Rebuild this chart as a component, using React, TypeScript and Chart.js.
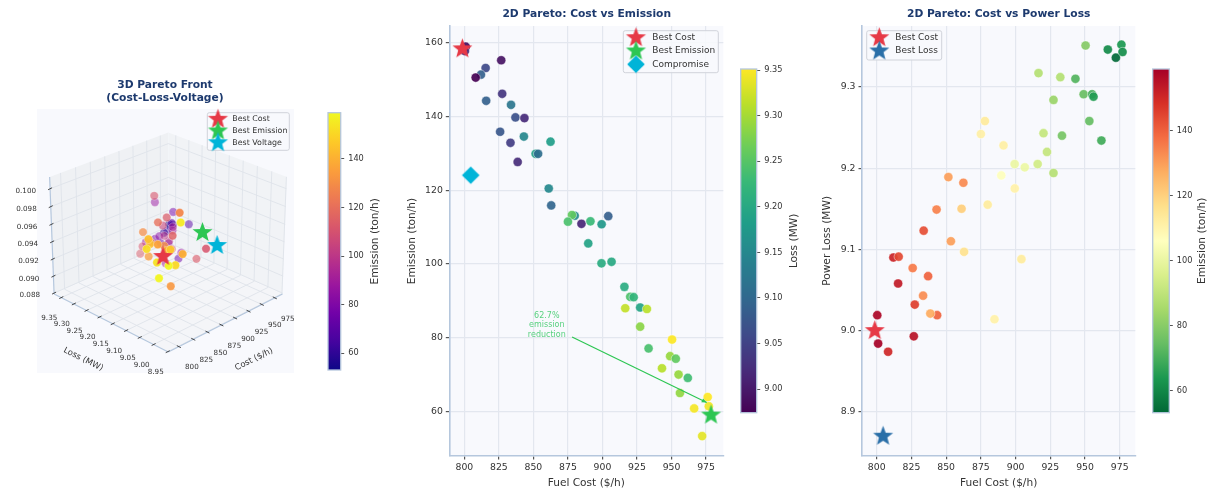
import React, { useEffect, useRef } from "react";
import { Chart, registerables } from "chart.js";

Chart.register(...registerables);

const fuelCost = [801, 800.4, 826.7, 815.4, 812, 808.2, 827.4, 815.8, 833.8, 837, 843.5, 825.9, 843.1, 833.4, 862.4, 851.6, 853.4, 838.6, 861.1, 862.9, 904.2, 879.9, 877.9, 875, 884.8, 891.3, 899.4, 889.7, 899.3, 906.6, 915.9, 920.1, 922.6, 927.3, 916.5, 932.2, 927.3, 950.4, 933.4, 949, 953.1, 943.1, 955.1, 961.8, 956.1, 976.2, 977, 966.4, 972.2];
const emission = [159, 157.8, 155.3, 153.2, 151.4, 150.6, 146.2, 144.3, 143.2, 139.8, 139.6, 135.9, 134.6, 132.9, 133.2, 129.9, 129.9, 127.7, 120.5, 115.9, 113, 113.1, 113.3, 111.5, 110.9, 111.6, 110.8, 105.6, 100.2, 100.6, 93.8, 91.1, 91, 88.2, 88, 87.8, 83, 79.5, 77.1, 75, 74.3, 71.7, 70, 69.1, 65, 63.9, 61.4, 60.8, 53.3];
const powerLoss = [8.984, 9.019, 8.993, 9.058, 9.09, 8.974, 9.032, 9.091, 9.123, 9.067, 9.019, 9.077, 9.149, 9.043, 9.182, 9.189, 9.11, 9.021, 9.15, 9.097, 9.088, 9.155, 9.258, 9.242, 9.014, 9.228, 9.175, 9.191, 9.205, 9.201, 9.205, 9.243, 9.22, 9.194, 9.317, 9.312, 9.284, 9.351, 9.24, 9.291, 9.258, 9.31, 9.291, 9.234, 9.288, 9.352, 9.343, 9.346, 9.336];
const voltageDev = [0.0962, 0.0943, 0.1002, 0.0951, 0.0963, 0.0962, 0.0966, 0.0973, 0.0958, 0.0957, 0.0958, 0.0966, 0.0937, 0.092, 0.0944, 0.0958, 0.0952, 0.1006, 0.0972, 0.0963, 0.0925, 0.0972, 0.0915, 0.0927, 0.0953, 0.0985, 0.0926, 0.0955, 0.0938, 0.093, 0.0944, 0.0893, 0.0936, 0.0911, 0.091, 0.0956, 0.0919, 0.09, 0.0953, 0.0903, 0.0887, 0.0902, 0.0927, 0.0931, 0.0925, 0.0903, 0.091, 0.0904, 0.0915];

const bestCost = { cost: 798.6, emission: 158.4, loss: 9.0, voltage: 0.0971 };
const bestEmission = { cost: 978.6, emission: 59, loss: 9.212, voltage: 0.0919 };
const bestVoltage = { cost: 962, loss: 9.121, voltage: 0.092 };
const bestLoss = { cost: 804.6, loss: 8.87 };
const compromise = { cost: 804.6, emission: 124.1 };

const costTicks = [800, 825, 850, 875, 900, 925, 950, 975];
const emissionTicks = [60, 80, 100, 120, 140, 160];
const lossTicks = [8.9, 9.0, 9.1, 9.2, 9.3];
const lossBarTicks = [9.0, 9.05, 9.1, 9.15, 9.2, 9.25, 9.3, 9.35];
const emissionBarTicks = [60, 80, 100, 120, 140];
const loss3dTicks = [8.95, 9.0, 9.05, 9.1, 9.15, 9.2, 9.25, 9.3, 9.35];
const voltage3dTicks = [0.088, 0.09, 0.092, 0.094, 0.096, 0.098, 0.1];

const VIRIDIS = ["#440154", "#482878", "#3e4989", "#31688e", "#26828e", "#1f9e89", "#35b779", "#6ece58", "#b5de2b", "#fde725"];
const PLASMA = ["#0d0887", "#46039f", "#7201a8", "#9c179e", "#bd3786", "#d8576b", "#ed7953", "#fb9f3a", "#fdca26", "#f0f921"];
const RDYLGN_R = ["#006837", "#1a9850", "#66bd63", "#a6d96a", "#d9ef8b", "#ffffbf", "#fee08b", "#fdae61", "#f46d43", "#d73027", "#a50026"];

const FONT = "'DejaVu Sans'";
const RED = "#e63946";
const GREEN = "#2dc653";
const CYAN = "#00b4d8";
const BLUE = "#2a6fa8";
const TITLE = "#1d3a6e";
const SPINE = "#b5c7dd";
const GRID = "#e3e7ef";
const PANEL = "#f8f9fd";
const TEXT = "#333333";

const hex = (h: string) => [1, 3, 5].map((i) => parseInt(h.slice(i, i + 2), 16));
function cmap(stops: string[], t: number, alpha = 1) {
  const p = Math.min(Math.max(t, 0), 1) * (stops.length - 1);
  const i = Math.min(Math.floor(p), stops.length - 2);
  const a = hex(stops[i]);
  const b = hex(stops[i + 1]);
  const c = a.map((v, k) => Math.round(v + (b[k] - v) * (p - i)));
  return `rgba(${c[0]},${c[1]},${c[2]},${alpha})`;
}

function shapeCanvas(kind: "star" | "diamond", color: string, r: number) {
  const cv = document.createElement("canvas");
  const size = Math.ceil(r * 2 + 4);
  cv.width = size;
  cv.height = size;
  const ctx = cv.getContext("2d")!;
  const c = size / 2;
  ctx.beginPath();
  if (kind === "star") {
    for (let i = 0; i < 10; i++) {
      const rad = i % 2 ? r * 0.42 : r;
      const a = -Math.PI / 2 + (i * Math.PI) / 5;
      ctx[i ? "lineTo" : "moveTo"](c + rad * Math.cos(a), c + rad * Math.sin(a));
    }
  } else {
    ctx.moveTo(c, c - r);
    ctx.lineTo(c + r, c);
    ctx.lineTo(c, c + r);
    ctx.lineTo(c - r, c);
  }
  ctx.closePath();
  ctx.fillStyle = color;
  ctx.fill();
  return cv;
}

type LegendItem = { label: string; icon: HTMLCanvasElement };
function drawLegend(ctx: CanvasRenderingContext2D, box: number[], iconX: number, textX: number, ys: number[], items: LegendItem[], size: number) {
  ctx.save();
  ctx.beginPath();
  ctx.roundRect(box[0], box[1], box[2] - box[0], box[3] - box[1], 2);
  ctx.fillStyle = "rgba(248,249,253,0.85)";
  ctx.fill();
  ctx.strokeStyle = "#d0d3da";
  ctx.lineWidth = 1;
  ctx.stroke();
  ctx.font = `${size}px ${FONT}`;
  ctx.fillStyle = TEXT;
  ctx.textBaseline = "middle";
  ctx.textAlign = "left";
  items.forEach((it, i) => {
    ctx.drawImage(it.icon, iconX - it.icon.width / 2, ys[i] - it.icon.height / 2);
  });
  items.forEach((it, i) => ctx.fillText(it.label, textX, ys[i]));
  ctx.restore();
}

function text(ctx: CanvasRenderingContext2D, s: string, x: number, y: number, font: string, color: string, rot = 0, align: CanvasTextAlign = "center") {
  ctx.save();
  ctx.translate(x, y);
  ctx.rotate(rot);
  ctx.font = font;
  ctx.fillStyle = color;
  ctx.textAlign = align;
  ctx.textBaseline = "middle";
  ctx.fillText(s, 0, 0);
  ctx.restore();
}

/* ---------- 3D projection used by the left panel ---------- */
const C0 = 782, C1 = 990, L0 = 8.948, L1 = 9.379, Z0 = 0.0879, Z1 = 0.1013;
const ELEV = (26 * Math.PI) / 180, DIST = 18, CZ = 0.79, SCALE = 82.3, CX = 168.3, CY = 236.6;
function project(c: number, l: number, z: number) {
  const X = (2 * (c - C0)) / (C1 - C0) - 1;
  const Y = (2 * (l - L0)) / (L1 - L0) - 1;
  const Z = (2 * (z - Z0)) / (Z1 - Z0) - 1;
  const up = 0.7071 * (X + Y) * Math.sin(ELEV) + Z * CZ * Math.cos(ELEV);
  const d = -0.7071 * (X + Y) * Math.cos(ELEV) + Z * CZ * Math.sin(ELEV);
  const f = DIST / (DIST - d);
  return { x: CX + SCALE * f * 0.7071 * (X - Y), y: CY - SCALE * f * up, d };
}

function poly(ctx: CanvasRenderingContext2D, pts: { x: number; y: number }[], fill: string) {
  ctx.beginPath();
  pts.forEach((p, i) => (i ? ctx.lineTo(p.x, p.y) : ctx.moveTo(p.x, p.y)));
  ctx.closePath();
  ctx.fillStyle = fill;
  ctx.fill();
}
function seg(ctx: CanvasRenderingContext2D, a: { x: number; y: number }, b: { x: number; y: number }, color: string, w: number) {
  ctx.beginPath();
  ctx.moveTo(a.x, a.y);
  ctx.lineTo(b.x, b.y);
  ctx.strokeStyle = color;
  ctx.lineWidth = w;
  ctx.stroke();
}

const panePlugin = {
  id: "panes",
  beforeDatasetsDraw(chart: any) {
    const ctx: CanvasRenderingContext2D = chart.ctx;
    ctx.save();
    ctx.fillStyle = PANEL;
    ctx.fillRect(37, 109, 257, 264);
    poly(ctx, [project(C0, L1, Z0), project(C1, L1, Z0), project(C1, L1, Z1), project(C0, L1, Z1)], "#eff1f4");
    poly(ctx, [project(C1, L0, Z0), project(C1, L1, Z0), project(C1, L1, Z1), project(C1, L0, Z1)], "#f1f3f6");
    poly(ctx, [project(C0, L0, Z0), project(C1, L0, Z0), project(C1, L1, Z0), project(C0, L1, Z0)], "#f4f5f8");
    const gc = "#dfe3ea";
    costTicks.forEach((c) => {
      seg(ctx, project(c, L0, Z0), project(c, L1, Z0), gc, 0.9);
      seg(ctx, project(c, L1, Z0), project(c, L1, Z1), gc, 0.9);
    });
    loss3dTicks.forEach((l) => {
      seg(ctx, project(C0, l, Z0), project(C1, l, Z0), gc, 0.9);
      seg(ctx, project(C1, l, Z0), project(C1, l, Z1), gc, 0.9);
    });
    voltage3dTicks.forEach((z) => {
      seg(ctx, project(C0, L1, z), project(C1, L1, z), gc, 0.9);
      seg(ctx, project(C1, L1, z), project(C1, L0, z), gc, 0.9);
    });
    seg(ctx, project(C0, L0, Z0), project(C1, L0, Z0), SPINE, 1.2);
    seg(ctx, project(C0, L0, Z0), project(C0, L1, Z0), SPINE, 1.2);
    seg(ctx, project(C0, L1, Z0), project(C0, L1, Z1), SPINE, 1.2);
    const tf = `7.2px ${FONT}`;
    costTicks.forEach((c) => {
      const p = project(c, L0, Z0);
      seg(ctx, { x: p.x - 2, y: p.y - 1 }, { x: p.x + 2, y: p.y + 1 }, "#333", 0.9);
      text(ctx, String(c), p.x + 13, p.y + 21, tf, TEXT);
    });
    loss3dTicks.forEach((l) => {
      const p = project(C0, l, Z0);
      seg(ctx, { x: p.x - 2, y: p.y + 1 }, { x: p.x + 2, y: p.y - 1 }, "#333", 0.9);
      text(ctx, l.toFixed(2), p.x - 12, p.y + 20.5, tf, TEXT);
    });
    voltage3dTicks.forEach((z) => {
      const p = project(C0, L1, z);
      seg(ctx, { x: p.x - 2, y: p.y + 1 }, { x: p.x + 2, y: p.y - 1 }, "#333", 0.9);
      text(ctx, z.toFixed(3), p.x - 14, p.y + 2.5, tf, TEXT, 0, "right");
    });
    text(ctx, "Loss (MW)", 83.3, 359.3, `8.4px ${FONT}`, TEXT, 0.46);
    text(ctx, "Cost ($/h)", 254, 359.3, `8.4px ${FONT}`, TEXT, -0.46);
    ctx.restore();
  },
  afterDraw(chart: any) {
    const ctx: CanvasRenderingContext2D = chart.ctx;
    const tf = `bold 10.7px ${FONT}`;
    text(ctx, "3D Pareto Front", 165, 85.7, tf, TITLE);
    text(ctx, "(Cost-Loss-Voltage)", 165, 98.3, tf, TITLE);
    drawLegend(ctx, [207.3, 112.7, 289.3, 150.3], 218, 232.3, [119.3, 131, 142.7], [
      { label: "Best Cost", icon: shapeCanvas("star", RED, 10.5) },
      { label: "Best Emission", icon: shapeCanvas("star", GREEN, 10.5) },
      { label: "Best Voltage", icon: shapeCanvas("star", CYAN, 10.5) },
    ], 7.9);
  },
};

function sizedPlugin(id: string, fn: (chart: any) => void, bg?: boolean) {
  return {
    id,
    beforeDraw(chart: any) {
      if (!bg) return;
      const a = chart.chartArea;
      chart.ctx.save();
      chart.ctx.fillStyle = PANEL;
      chart.ctx.fillRect(a.left, a.top, a.width, a.height);
      chart.ctx.restore();
    },
    afterDraw: fn,
  };
}

function axis(min: number, max: number, ticks: number[], fit: (s: any) => void, title: string, pad: number, fmt: (v: number) => string) {
  return {
    type: "linear",
    min,
    max,
    afterBuildTicks: (s: any) => {
      s.ticks = ticks.map((value) => ({ value }));
    },
    afterFit: fit,
    ticks: { callback: (v: any) => fmt(Number(v)), font: { family: FONT, size: 9.3 }, color: TEXT, autoSkip: false, maxRotation: 0, padding: 3 },
    grid: { color: GRID, tickColor: "#555", tickLength: 3.5, lineWidth: 1.2 },
    border: { display: true, color: SPINE, width: 1.6 },
    title: { display: true, text: title, font: { family: FONT, size: 10.6 }, color: TEXT, padding: pad },
  };
}

function barPlugin(stops: string[], title: string, titleX: number, fs: number) {
  return {
    id: "colorbar",
    beforeDatasetsDraw(chart: any) {
      const { ctx, chartArea: a } = chart;
      const g = ctx.createLinearGradient(0, a.bottom, 0, a.top);
      const n = 40;
      for (let i = 0; i <= n; i++) g.addColorStop(i / n, cmap(stops, i / n));
      ctx.save();
      ctx.fillStyle = g;
      ctx.fillRect(a.left, a.top, a.width, a.height);
      ctx.strokeStyle = SPINE;
      ctx.lineWidth = 1.3;
      ctx.strokeRect(a.left, a.top, a.width, a.height);
      ctx.restore();
    },
    afterDraw(chart: any) {
      const { ctx, chartArea: a } = chart;
      text(ctx, title, titleX, (a.top + a.bottom) / 2, `${fs}px ${FONT}`, TEXT, -Math.PI / 2);
    },
  };
}

function colorbarConfig(min: number, max: number, ticks: number[], fmt: (v: number) => string, stops: string[], title: string, titleX: number, padLeft: number, barW: number, top: number, bottom: number, W: number, tickSize: number) {
  return {
    type: "scatter",
    data: { datasets: [{ data: [] as any[] }] },
    plugins: [barPlugin(stops, title, titleX, 10.6)],
    options: {
      responsive: false,
      animation: false,
      layout: { padding: { left: padLeft, top, bottom: 493 - bottom, right: 0 } },
      plugins: { legend: { display: false }, tooltip: { enabled: false } },
      scales: {
        x: { display: false, min: 0, max: 1 },
        y: {
          type: "linear",
          position: "right",
          min,
          max,
          afterBuildTicks: (s: any) => {
            s.ticks = ticks.map((value) => ({ value }));
          },
          afterFit: (s: any) => {
            s.width = W - padLeft - barW;
          },
          ticks: { callback: (v: any) => fmt(Number(v)), font: { family: FONT, size: tickSize }, color: TEXT, padding: 4, autoSkip: false },
          grid: { drawOnChartArea: false, tickColor: "#555", tickLength: 3.5 },
          border: { display: false },
        },
      },
    },
  };
}

const pointSet = (xs: number[], ys: number[], colors: string[]) => ({
  data: xs.map((x, i) => ({ x, y: ys[i] })),
  pointRadius: 4.6,
  pointBackgroundColor: colors,
  pointBorderColor: "rgba(255,255,255,0.9)",
  pointBorderWidth: 0.5,
});
const marker = (x: number, y: number, icon: HTMLCanvasElement) => ({ data: [{ x, y }], pointStyle: icon, pointRadius: 9 });

export default function App() {
  const refs = [useRef<HTMLCanvasElement>(null), useRef<HTMLCanvasElement>(null), useRef<HTMLCanvasElement>(null), useRef<HTMLCanvasElement>(null), useRef<HTMLCanvasElement>(null), useRef<HTMLCanvasElement>(null)];

  useEffect(() => {
    const starR = shapeCanvas("star", RED, 10.5);
    const starG = shapeCanvas("star", GREEN, 10.5);
    const starC = shapeCanvas("star", CYAN, 10.5);
    const starB = shapeCanvas("star", BLUE, 10.5);
    const dia = shapeCanvas("diamond", CYAN, 8.8);

    // 3D panel
    const order = fuelCost.map((_, i) => i).sort((a, b) => project(fuelCost[a], powerLoss[a], voltageDev[a]).d - project(fuelCost[b], powerLoss[b], voltageDev[b]).d);
    const pts3d = order.map((i) => project(fuelCost[i], powerLoss[i], voltageDev[i]));
    const col3d = order.map((i, k) => {
      const al = Math.min(0.95, Math.max(0.5, 0.62 + 0.5 * pts3d[k].d));
      return cmap(PLASMA, (emission[i] - 53.1) / (159 - 53.1), al);
    });
    const pCost = project(bestCost.cost, bestCost.loss, bestCost.voltage);
    const pEm = project(bestEmission.cost, bestEmission.loss, bestEmission.voltage);
    const pVolt = project(bestVoltage.cost, bestVoltage.loss, bestVoltage.voltage);

    const c3d = new Chart(refs[0].current!, {
      type: "scatter",
      data: {
        datasets: [
          marker(pCost.x, pCost.y, starR),
          marker(pEm.x, pEm.y, starG),
          marker(pVolt.x, pVolt.y, starC),
          { data: pts3d.map((p) => ({ x: p.x, y: p.y })), pointRadius: 4.2, pointBackgroundColor: col3d, pointBorderColor: "rgba(255,255,255,0.6)", pointBorderWidth: 0.5 },
        ],
      },
      plugins: [panePlugin],
      options: {
        responsive: false,
        animation: false,
        layout: { padding: 0 },
        plugins: { legend: { display: false }, tooltip: { enabled: false } },
        scales: { x: { display: false, min: 0, max: 320 }, y: { display: false, min: 0, max: 493, reverse: true } },
      },
    } as any);

    const cb3d = new Chart(refs[1].current!, colorbarConfig(53.1, 159, emissionBarTicks, (v) => String(v), PLASMA, "Emission (ton/h)", 55, 8, 12.7, 112.7, 370, 70, 8.2) as any);

    // Cost vs Emission
    const c2 = new Chart(refs[2].current!, {
      type: "scatter",
      data: {
        datasets: [
          marker(bestEmission.cost, bestEmission.emission, starG),
          marker(bestCost.cost, bestCost.emission, starR),
          marker(compromise.cost, compromise.emission, dia),
          pointSet(fuelCost, emission, powerLoss.map((l) => cmap(VIRIDIS, (l - 8.974) / (9.3514 - 8.974), 0.92))),
        ],
      },
      plugins: [
        sizedPlugin("panel2", (chart: any) => {
          const ctx: CanvasRenderingContext2D = chart.ctx;
          const sx = chart.scales.x, sy = chart.scales.y;
          text(ctx, "2D Pareto: Cost vs Emission", 186.7, 14.7, `bold 10.7px ${FONT}`, TITLE);
          const tail = { x: sx.getPixelForValue(878), y: sy.getPixelForValue(80.2) };
          const head = { x: sx.getPixelForValue(975.5), y: sy.getPixelForValue(62.4) };
          seg(ctx, tail, head, GREEN, 1.2);
          const ang = Math.atan2(head.y - tail.y, head.x - tail.x);
          ctx.beginPath();
          ctx.moveTo(head.x, head.y);
          ctx.lineTo(head.x - 5.5 * Math.cos(ang - 0.4), head.y - 5.5 * Math.sin(ang - 0.4));
          ctx.lineTo(head.x - 5.5 * Math.cos(ang + 0.4), head.y - 5.5 * Math.sin(ang + 0.4));
          ctx.closePath();
          ctx.fillStyle = GREEN;
          ctx.fill();
          const ax = sx.getPixelForValue(859.7);
          const ay = sy.getPixelForValue(83.4);
          ["62.7%", "emission", "reduction"].forEach((s, i) => text(ctx, s, ax, ay + (i - 1) * 9.5, `8px ${FONT}`, "#58d17f"));
          drawLegend(ctx, [223.3, 30.7, 318.3, 72.7], 236, 252.3, [37.7, 51, 64.3], [
            { label: "Best Cost", icon: starR },
            { label: "Best Emission", icon: starG },
            { label: "Compromise", icon: dia },
          ], 9);
        }, true),
      ],
      options: {
        responsive: false,
        animation: false,
        layout: { padding: { top: 26, right: 11.7, left: 0, bottom: 0 } },
        plugins: { legend: { display: false }, tooltip: { enabled: false } },
        scales: {
          x: axis(789.1, 987.5, costTicks, (s: any) => { s.height = 37; }, "Fuel Cost ($/h)", 3.5, (v) => String(v)),
          y: axis(47.9, 164.6, emissionTicks, (s: any) => { s.width = 49.3; }, "Emission (ton/h)", 5.4, (v) => String(v)),
        },
      },
    } as any);

    const cb2 = new Chart(refs[3].current!, colorbarConfig(8.974, 9.3514, lossBarTicks, (v) => v.toFixed(2), VIRIDIS, "Loss (MW)", 59.3, 5.7, 16, 69, 412.7, 70, 8.2) as any);

    // Cost vs Power Loss
    const c3 = new Chart(refs[4].current!, {
      type: "scatter",
      data: {
        datasets: [
          marker(bestCost.cost, bestCost.loss, starR),
          marker(bestLoss.cost, bestLoss.loss, starB),
          pointSet(fuelCost, powerLoss, emission.map((e) => cmap(RDYLGN_R, (e - 53.3) / (159 - 53.3), 0.92))),
        ],
      },
      plugins: [
        sizedPlugin("panel3", (chart: any) => {
          const ctx: CanvasRenderingContext2D = chart.ctx;
          text(ctx, "2D Pareto: Cost vs Power Loss", 188.7, 14.5, `bold 10.7px ${FONT}`, TITLE);
          drawLegend(ctx, [56.7, 30.7, 131.7, 60], 69.3, 85.3, [37.7, 51], [
            { label: "Best Cost", icon: starR },
            { label: "Best Loss", icon: starB },
          ], 9);
        }, true),
      ],
      options: {
        responsive: false,
        animation: false,
        layout: { padding: { top: 26, right: 14.7, left: 0, bottom: 0 } },
        plugins: { legend: { display: false }, tooltip: { enabled: false } },
        scales: {
          x: axis(789.4, 986.2, costTicks, (s: any) => { s.height = 37.3; }, "Fuel Cost ($/h)", 3.5, (v) => String(v)),
          y: axis(8.846, 9.375, lossTicks, (s: any) => { s.width = 52; }, "Power Loss (MW)", 10.7, (v) => v.toFixed(1)),
        },
      },
    } as any);

    const cb3 = new Chart(refs[5].current!, colorbarConfig(53.3, 159, emissionBarTicks, (v) => String(v), RDYLGN_R, "Emission (ton/h)", 52.7, 2.7, 16.6, 69, 412.7, 58, 8.2) as any);

    return () => {
      [c3d, cb3d, c2, cb2, c3, cb3].forEach((c) => c.destroy());
    };
  }, []);

  const place: [number, number][] = [[0, 320], [320, 70], [400, 335], [735, 70], [810, 340], [1150, 58]];
  return (
    <div style={{ position: "absolute", left: 0, top: 0, width: 1208, height: 493, background: "#fff", overflow: "hidden" }}>
      {place.map(([left, w], i) => (
        <canvas key={i} ref={refs[i]} width={w} height={493} style={{ position: "absolute", left, top: 0, width: w, height: 493 }} />
      ))}
    </div>
  );
}
